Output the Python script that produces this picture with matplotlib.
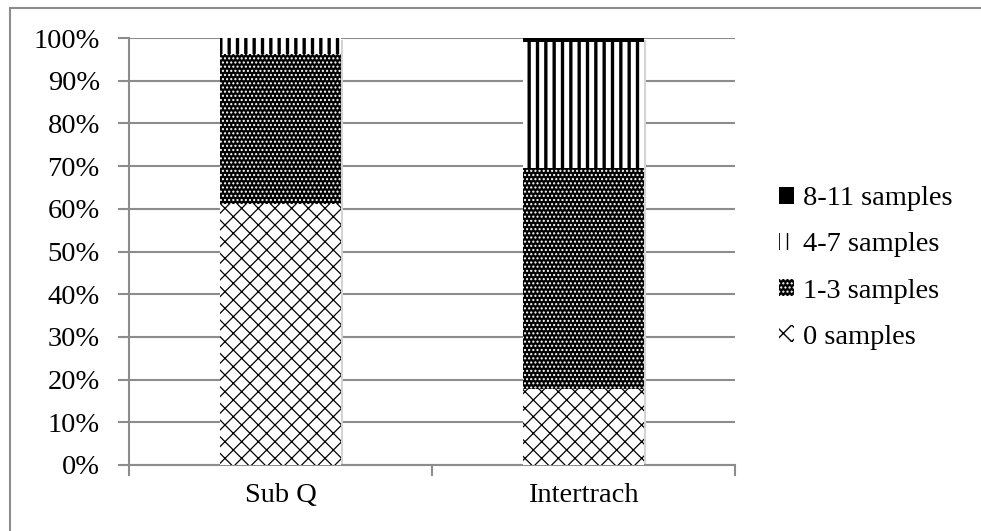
import matplotlib
matplotlib.use("Agg")
import matplotlib.pyplot as plt
from matplotlib.patches import Rectangle, Patch
from matplotlib.ticker import FuncFormatter, FixedLocator
import numpy as np

categories = ["Sub Q", "Intertrach"]
series_names = ["0 samples", "1-3 samples", "4-7 samples", "8-11 samples"]
zero_samples = [61.1, 17.8]
one_to_three = [35.1, 51.8]
four_to_seven = [3.8, 29.4]
eight_to_eleven = [0.0, 1.0]
y_ticks = list(range(0, 101, 10))

series_values = [zero_samples, one_to_three, four_to_seven, eight_to_eleven]
styles = [
    dict(facecolor="white", edgecolor="black", hatch="xx", hlw=0.9),
    dict(facecolor="black", edgecolor="white", hatch="....", hlw=1.0),
    dict(facecolor="white", edgecolor="black", hatch="||", hlw=2.4),
    dict(facecolor="black", edgecolor="black", hatch=None, hlw=0.8),
]

plt.rcParams["font.family"] = ["Liberation Serif", "DejaVu Serif"]
FS = 20.5

fig = plt.figure(figsize=(9.81, 5.31), dpi=100)
W, H = 981, 531
ax = fig.add_axes([129 / W, 1 - 465 / H, (735 - 129) / W, (465 - 38) / H])

x = np.arange(len(categories))
width = 0.4
bottom = np.zeros(len(categories))
gray = "#8c8c8c"

for name, vals, st in zip(series_names, series_values, styles):
    vals = np.array(vals)
    with plt.rc_context({"hatch.linewidth": st["hlw"]}):
        bars = ax.bar(x, vals, width, bottom=bottom, facecolor=st["facecolor"],
                      edgecolor=st["edgecolor"], hatch=st["hatch"], linewidth=0,
                      zorder=3, label=name)
    # soft drop shadow on the right side of each segment
    for b in bars:
        if b.get_height() > 0:
            ax.add_patch(Rectangle((b.get_x() + 0.006, b.get_y() - 0.4), b.get_width(),
                                   b.get_height(), facecolor="#d4d4d4", edgecolor="none",
                                   zorder=2))
    bottom += vals

ax.set_xlim(-0.5, 1.5)
ax.set_ylim(0, 100)
ax.yaxis.set_major_locator(FixedLocator(y_ticks))
ax.yaxis.set_major_formatter(FuncFormatter(lambda v, p: f"{int(v)}%"))
ax.grid(axis="y", color=gray, linewidth=1.5, zorder=0)
ax.set_axisbelow(True)

ax.set_xticks(x)
ax.set_xticklabels(categories, fontsize=FS)
ax.tick_params(axis="x", length=0, pad=13)
ax.xaxis.set_minor_locator(FixedLocator([-0.5, 0.5, 1.5]))
ax.tick_params(axis="x", which="minor", length=8, color=gray, width=1.5)
ax.tick_params(axis="y", length=8, color=gray, width=1.5, labelsize=FS, pad=13)

for s in ["top", "right"]:
    ax.spines[s].set_visible(False)
for s in ["left", "bottom"]:
    ax.spines[s].set_color(gray)
    ax.spines[s].set_linewidth(1.5)

handles = []
for name, st in zip(series_names, styles):
    with plt.rc_context({"hatch.linewidth": st["hlw"]}):
        handles.append(Patch(facecolor=st["facecolor"], edgecolor=st["edgecolor"],
                             hatch=st["hatch"], linewidth=0, label=name))
leg = fig.legend(handles[::-1], series_names[::-1], loc="upper left",
                 bbox_to_anchor=(768 / W, 1 - 175 / H), frameon=False, fontsize=FS,
                 handlelength=0.52, handleheight=0.52, handletextpad=0.3,
                 labelspacing=0.74, borderaxespad=0)

# outer chart border
fig.add_artist(Rectangle((10 / W, -0.1), 1.2, 1 - 8 / H + 0.1, transform=fig.transFigure,
                         facecolor="none", edgecolor=gray, linewidth=1.5))

fig.savefig("out.png", dpi=100)
